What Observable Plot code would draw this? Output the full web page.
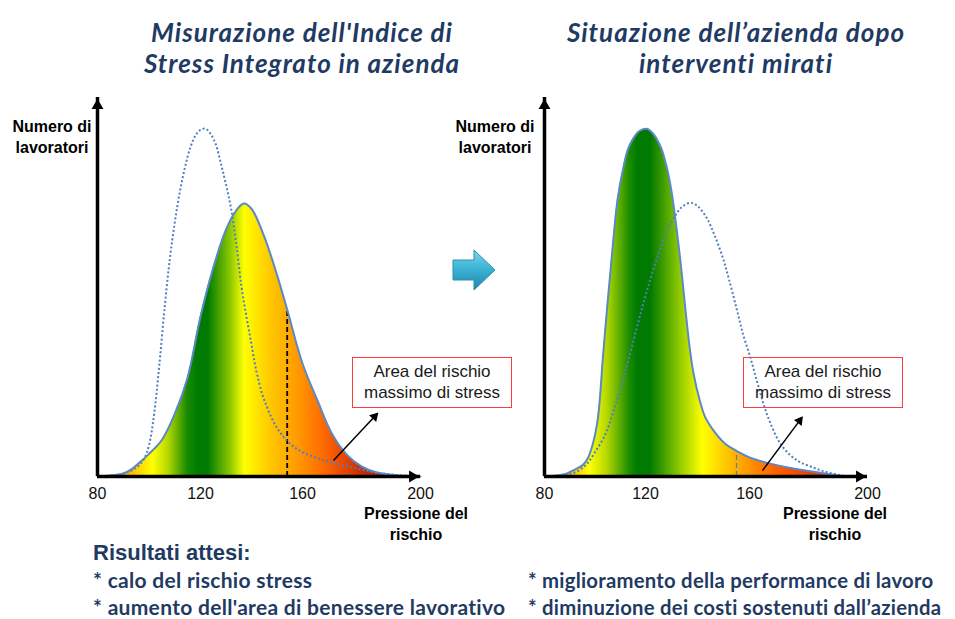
<!DOCTYPE html>
<html><head><meta charset="utf-8">
<script src="https://cdn.jsdelivr.net/npm/d3@7"></script>
<script src="https://cdn.jsdelivr.net/npm/@observablehq/plot@0.6"></script>
<style>
body{margin:0;background:#fff;}
#root{position:relative;width:955px;height:619px;overflow:hidden;font-family:"Liberation Sans",Arial,sans-serif;}
.abs{position:absolute;white-space:nowrap;}
.title{font-family:Lato,sans-serif;font-weight:700;font-style:italic;font-size:26px;letter-spacing:1px;color:#1f3a63;text-align:center;line-height:31px;}
.axlab{font-weight:700;font-size:16px;color:#000;text-align:center;line-height:21px;}
.box{border:1.5px solid #ff3c3c;box-sizing:border-box;font-size:17px;line-height:21px;color:#1a1a1a;text-align:center;padding-top:3px;}
.res{font-family:"Liberation Sans",Arial,sans-serif;font-weight:700;font-size:22px;color:#1f3a63;line-height:26px;}
.bul{font-family:Lato,sans-serif;font-weight:700;font-size:21px;letter-spacing:0.3px;color:#1f3a63;line-height:26px;}
.bul2{font-family:Lato,sans-serif;font-weight:700;font-size:20.3px;letter-spacing:0.25px;color:#1f3a63;line-height:26px;}
svg.plt{position:absolute;left:0;top:0;}
</style></head>
<body><div id="root"></div>
<script>
// ---- data ----
const xTicks = [80, 120, 160, 200];
const yDomain = [0, 109];

// Panel 1: current distribution (solid) and target distribution (dotted)
const p1SolidX = [80, 85, 90, 93, 96, 100, 105, 110, 115, 120, 125, 130, 134, 137, 140, 145, 150, 154, 160, 165, 170, 175, 180, 185, 190, 195, 200];
const p1SolidY = [0, 0.3, 0.9, 2, 3.8, 6.5, 10.5, 18, 28.5, 46, 60, 71, 76.5, 78.5, 77, 69, 58, 48, 32.5, 22, 12.3, 6.3, 2.9, 1.2, 0.5, 0.2, 0];
const p1DotX = [80, 85, 90, 95, 98, 100, 102, 104, 106, 108, 110, 112, 114, 116, 118, 120, 122, 124, 126, 128, 130, 132, 134, 136, 138, 140, 142, 145, 150, 155, 160, 165, 170, 175, 180, 185, 190, 195, 200];
const p1DotY = [0, 0.3, 0.8, 2.5, 5, 9, 18, 32, 48, 62, 73, 82, 89, 94.5, 98, 99.7, 100, 98.5, 95.5, 90, 84, 77, 67, 55, 46, 38, 30, 22, 14, 9.5, 7, 5.3, 4, 3, 2, 1.1, 0.6, 0.2, 0];

// Panel 2: distribution after interventions (solid) and previous one (dotted)
const p2SolidX = [80, 85, 89, 92, 95, 97, 99, 101, 102, 103, 104.5, 106, 107.5, 109, 111, 113, 115, 117.5, 120.5, 123, 126, 128, 130, 132, 134, 135.5, 137, 138.5, 141, 143, 147, 151, 155, 160, 167, 173, 180, 186, 192];
const p2SolidY = [0, 0.3, 0.9, 2, 3.2, 5, 9, 16, 23, 33, 46, 58, 70, 80, 88, 94, 97, 99.3, 100, 98.5, 94.5, 89.5, 82, 71, 58, 47, 37, 29.5, 21.5, 17, 12.4, 9.2, 7.4, 5.5, 3.7, 2.6, 1.6, 0.8, 0];
const p2DotX = [80, 88, 93, 97, 100, 104, 107, 110, 113, 117, 120, 124.5, 128, 131, 134, 137.3, 140, 143.5, 146.5, 149.7, 152, 155, 157.5, 160.3, 162.5, 164.7, 167, 170.4, 174, 177, 181.5, 186, 191.6, 195];
const p2DotY = [0, 0.3, 1.5, 3.8, 7, 12, 18, 25, 33, 44, 52, 63, 70, 74.5, 77.5, 78.7, 77.8, 74.4, 69.5, 63, 57, 48.4, 41, 34.2, 27.5, 21, 15.5, 9.5, 6, 4.2, 2.6, 1.3, 0.3, 0];

// threshold of maximum-risk area
const p1Threshold = 154;
const p2Threshold = 155;

// annotation arrows (from, to) in data units
const p1Arrow = [{x1: 170.5, y1: 4.6, x2: 185.4, y2: 18.1}];
const p2Arrow = [{x1: 164.4, y1: 1.7, x2: 177.8, y2: 17}];

// gradient colour stops (value, colour)
const p1Stops = [[80,"#ff8c00"],[90,"#ffa500"],[101.6,"#ffff00"],[107.5,"#b5d800"],[115,"#178a00"],[119,"#007a00"],[123,"#007a00"],[131.8,"#8cc800"],[137.3,"#ffff00"],[147.5,"#ffc800"],[158,"#ff9a00"],[167,"#ff6a00"],[174,"#e84800"],[181,"#c82800"],[200,"#b01800"]];
const p2Stops = [[80,"#ff8c00"],[88,"#ffa500"],[98,"#ffff00"],[104.8,"#b5d800"],[114,"#178a00"],[117,"#007a00"],[122,"#007a00"],[133,"#8cc800"],[142,"#ffff00"],[151,"#ffc800"],[159,"#ff9a00"],[169,"#ff6000"],[180,"#f04000"],[200,"#d02000"]];

const W = 955, H = 619, BASE = 476, TOP = 97;
const root = document.getElementById("root");

function panel(cfg) {
  const solid = cfg.solidX.map((x, i) => ({x, y: cfg.solidY[i]}));
  const dotted = cfg.dotX.map((x, i) => ({x, y: cfg.dotY[i]}));
  const thr = solid.filter(d => d.x === cfg.threshold);
  const xs = d3.scaleLinear().domain(xTicks).range(cfg.xRange);
  const ys = d3.scaleLinear().domain(yDomain).range([BASE, TOP]);
  const r0 = cfg.xRange[0], r1 = cfg.xRange[cfg.xRange.length - 1];
  // arrowhead orientation (pixel space, clockwise from up)
  const a = cfg.arrow[0];
  const ddx = xs(a.x2) - xs(a.x1), ddy = ys(a.y2) - ys(a.y1);
  const len = Math.hypot(ddx, ddy), ux = ddx / len, uy = ddy / len;
  const rot = Math.atan2(ux, -uy) * 180 / Math.PI;
  const hr = 3.6, tip = 2 * Math.sqrt(hr * hr * Math.PI / (3 * Math.sqrt(3)));
  const chart = Plot.plot({
    width: W, height: H,
    marginLeft: r0, marginRight: W - r1, marginTop: TOP, marginBottom: H - BASE,
    style: {background: "transparent", fontFamily: "'Liberation Sans', Arial, sans-serif", fontSize: "16px", color: "#111", overflow: "visible"},
    x: {type: "linear", domain: xTicks, range: cfg.xRange, ticks: xTicks, tickSize: 0, tickPadding: 11, tickFormat: d => String(d), label: null},
    y: {type: "linear", domain: yDomain, range: [BASE, TOP], axis: null},
    marks: [
      Plot.areaY(solid, {x: "x", y: "y", fill: `url(#${cfg.id})`, curve: "catmull-rom"}),
      Plot.ruleX(thr, {x: "x", y1: 0, y2: "y", stroke: cfg.thrColor, strokeWidth: cfg.thrWidth, strokeDasharray: "5 3"}),
      Plot.lineY(dotted, {x: "x", y: "y", stroke: "#4f7fc0", strokeWidth: 2, strokeDasharray: "2 2.2", strokeLinecap: "butt", curve: "catmull-rom"}),
      Plot.lineY(solid, {x: "x", y: "y", stroke: "#5a89c6", strokeWidth: 2, curve: "catmull-rom"}),
      Plot.ruleY([0], {x1: xTicks[0], x2: xTicks[xTicks.length - 1], stroke: "#000", strokeWidth: 3.5}),
      Plot.ruleX([xTicks[0]], {y1: yDomain[0], y2: yDomain[1], stroke: "#000", strokeWidth: 3.5}),
      Plot.dot([{x: xTicks[xTicks.length - 1], y: 0}], {x: "x", y: "y", symbol: "triangle", rotate: 90, r: 4.4, fill: "#000", stroke: "none", dx: -8}),
      Plot.dot([{x: xTicks[0], y: yDomain[1]}], {x: "x", y: "y", symbol: "triangle", rotate: 0, r: 4.4, fill: "#000", stroke: "none", dy: 8}),
      Plot.link(cfg.arrow, {x1: "x1", y1: "y1", x2: "x2", y2: "y2", stroke: "#000", strokeWidth: 1.5}),
      Plot.dot(cfg.arrow, {x: "x2", y: "y2", symbol: "triangle", rotate: rot, r: hr, fill: "#000", stroke: "none", dx: -ux * tip * 0.75, dy: -uy * tip * 0.75})
    ]
  });
  chart.classList.add("plt");
  // horizontal gradient in pixel space, stops placed through the x scale
  const ns = "http://www.w3.org/2000/svg";
  const defs = document.createElementNS(ns, "defs");
  const g = document.createElementNS(ns, "linearGradient");
  g.setAttribute("id", cfg.id);
  g.setAttribute("gradientUnits", "userSpaceOnUse");
  g.setAttribute("x1", r0); g.setAttribute("x2", r1);
  g.setAttribute("y1", 0); g.setAttribute("y2", 0);
  for (const [v, c] of cfg.stops) {
    const s = document.createElementNS(ns, "stop");
    s.setAttribute("offset", (xs(v) - r0) / (r1 - r0));
    s.setAttribute("stop-color", c);
    g.appendChild(s);
  }
  defs.appendChild(g);
  chart.insertBefore(defs, chart.firstChild);
  root.appendChild(chart);
}

panel({id: "grad1", xRange: [97, 200, 302, 420], solidX: p1SolidX, solidY: p1SolidY, dotX: p1DotX, dotY: p1DotY,
  threshold: p1Threshold, thrColor: "#000", thrWidth: 1.8, stops: p1Stops, arrow: p1Arrow});
panel({id: "grad2", xRange: [544, 645, 749, 867], solidX: p2SolidX, solidY: p2SolidY, dotX: p2DotX, dotY: p2DotY,
  threshold: p2Threshold, thrColor: "#5a7fae", thrWidth: 1.3, stops: p2Stops, arrow: p2Arrow});

// ---- text overlays ----
function add(cls, html, style) {
  const d = document.createElement("div");
  d.className = "abs " + cls;
  d.innerHTML = html;
  Object.assign(d.style, style);
  root.appendChild(d);
  return d;
}
add("title", "Misurazione dell'Indice di<br>Stress Integrato in azienda", {left: "102px", top: "17px", width: "400px"});
add("title", "Situazione dell’azienda dopo<br>interventi mirati", {left: "536px", top: "17px", width: "400px"});
add("axlab", "Numero di<br>lavoratori", {left: "2px", top: "116px", width: "100px"});
add("axlab", "Numero di<br>lavoratori", {left: "445px", top: "116px", width: "100px"});
add("axlab", "Pressione del<br>rischio", {left: "356px", top: "503px", width: "120px"});
add("axlab", "Pressione del<br>rischio", {left: "775px", top: "503px", width: "120px"});
add("box", "Area del rischio<br>massimo di stress", {left: "352px", top: "357px", width: "160px", height: "51px"});
add("box", "Area del rischio<br>massimo di stress", {left: "743px", top: "357px", width: "160px", height: "51px"});
add("res", "Risultati attesi:", {left: "93px", top: "540px"});
add("bul", "* calo del rischio stress", {left: "93px", top: "567px"});
add("bul", "* aumento dell'area di benessere lavorativo", {left: "93px", top: "594px"});
add("bul2", "* miglioramento della performance di lavoro", {left: "528px", top: "567px"});
add("bul2", "* diminuzione dei costi sostenuti dall’azienda", {left: "528px", top: "594px"});

// decorative transition arrow
const arr = document.createElement("div");
arr.className = "abs";
Object.assign(arr.style, {left: "450px", top: "246px"});
arr.innerHTML = `<svg width="50" height="50" viewBox="0 0 50 50">
<defs><linearGradient id="ag" x1="0" y1="0" x2="0" y2="1">
<stop offset="0" stop-color="#7fd3ea"/><stop offset="0.45" stop-color="#3db4d6"/><stop offset="1" stop-color="#1f86a8"/></linearGradient></defs>
<path d="M3,14 L24,14 L24,4 L45,24 L24,44 L24,34 L3,34 Z" fill="url(#ag)" stroke="#2b8fae" stroke-width="1"/>
</svg>`;
root.appendChild(arr);
</script>
</body></html>
